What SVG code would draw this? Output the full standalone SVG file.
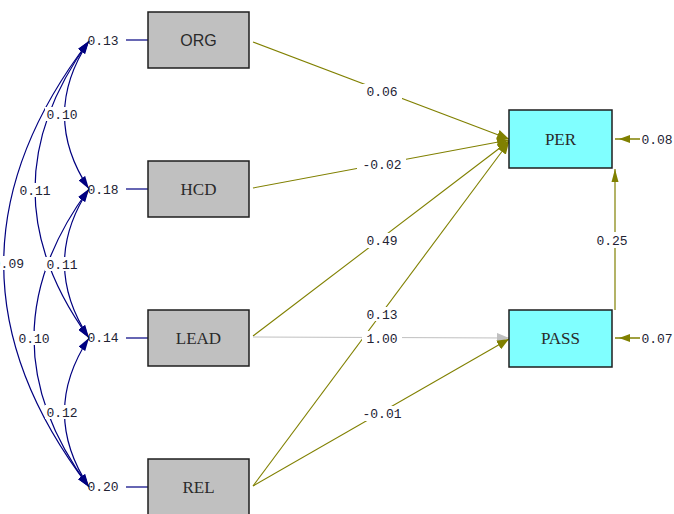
<svg xmlns="http://www.w3.org/2000/svg" width="674" height="514" viewBox="0 0 674 514">
  <style>
    .box { fill: #c0c0c0; stroke: #1e1e1e; stroke-width: 1.5; }
    .endo { fill: #80ffff; stroke: #1e1e1e; stroke-width: 1.5; }
    .name { font-family: "Liberation Serif", "Times New Roman", serif; font-size: 17px; fill: #2a2a2a; text-anchor: middle; }
    .sans { font-family: "Liberation Sans", Arial, sans-serif; font-size: 16px; }
    .num { font-family: "Liberation Mono", "Courier New", monospace; font-size: 13px; fill: #222233; text-anchor: middle; }
    .bg { fill: #ffffff; }
    .cov { fill: none; stroke: #000080; stroke-width: 1.2; marker-start: url(#navyHead); marker-end: url(#navyHead); }
    .err { stroke: #000080; stroke-width: 1.2; }
    .path { fill: none; stroke: #808000; stroke-width: 1.1; marker-end: url(#oliveHead); }
    .fixed { fill: none; stroke: #c0c0c0; stroke-width: 1.2; marker-end: url(#greyHead); }
  </style>
  <defs>
    <marker id="navyHead" markerUnits="userSpaceOnUse" markerWidth="14" markerHeight="8" refX="13" refY="4" orient="auto-start-reverse">
      <path d="M0,0 L13,4 L0,8 z" fill="#000080"/>
    </marker>
    <marker id="oliveHead" markerUnits="userSpaceOnUse" markerWidth="13" markerHeight="10" refX="12" refY="5" orient="auto">
      <path d="M0,0 L12,5 L0,10 z" fill="#808000"/>
    </marker>
    <marker id="greyHead" markerUnits="userSpaceOnUse" markerWidth="13" markerHeight="10" refX="12" refY="5" orient="auto">
      <path d="M0,0 L12,5 L0,10 z" fill="#c0c0c0"/>
    </marker>
    <marker id="thinOlive" markerUnits="userSpaceOnUse" markerWidth="14" markerHeight="8" refX="13" refY="4" orient="auto">
      <path d="M0,0.5 L13,4 L0,7.5 z" fill="#808000"/>
    </marker>
  </defs>

  <!-- connectors -->
  <g id="connectors">
    <!-- covariances among the exogenous variables -->
    <path class="cov" d="M89,41 Q40,115 89,189"/>
    <path class="cov" d="M89,189 Q40,263.5 89,338"/>
    <path class="cov" d="M89,338 Q40,412.5 89,487"/>
    <path class="cov" d="M89,41 Q-19,189.5 89,338"/>
    <path class="cov" d="M89,189 Q-21,338 89,487"/>
    <path class="cov" d="M89,41 C-25,190 -25,338 89,487"/>

    <!-- error variances of exogenous variables -->
    <line class="err" x1="126" y1="40" x2="148" y2="40"/>
    <line class="err" x1="126" y1="189" x2="148" y2="189"/>
    <line class="err" x1="126" y1="338" x2="148" y2="338"/>
    <line class="err" x1="126" y1="487" x2="148" y2="487"/>

    <!-- structural paths -->
    <line class="path" x1="253" y1="42" x2="509" y2="139"/>
    <line class="path" x1="253" y1="188" x2="509" y2="140"/>
    <line class="path" x1="253" y1="336" x2="509" y2="141"/>
    <line class="path" x1="253" y1="486" x2="509" y2="142"/>
    <line class="fixed" x1="253" y1="337" x2="509" y2="338"/>
    <line class="path" x1="253" y1="486" x2="509" y2="339"/>
    <line fill="none" stroke="#808000" stroke-width="1.2" marker-end="url(#thinOlive)" x1="615" y1="310" x2="615" y2="169"/>

    <!-- residuals of endogenous variables -->
    <line stroke="#808000" stroke-width="1.5" x1="615" y1="139" x2="640" y2="139"/>
    <path d="M619,139 L630,135 L630,143 z" fill="#808000"/>
    <line stroke="#808000" stroke-width="1.5" x1="615" y1="338" x2="640" y2="338"/>
    <path d="M619,338 L630,334 L630,342 z" fill="#808000"/>

    <!-- label backgrounds -->
    <rect class="bg" x="45" y="107" width="34" height="14"/>
    <rect class="bg" x="18" y="183" width="34" height="14"/>
    <rect class="bg" x="-12" y="256" width="37" height="14"/>
    <rect class="bg" x="45" y="257" width="34" height="14"/>
    <rect class="bg" x="17" y="331" width="34" height="14"/>
    <rect class="bg" x="45" y="405" width="34" height="14"/>
    <rect class="bg" x="362" y="84" width="40" height="15"/>
    <rect class="bg" x="357" y="157" width="49" height="15"/>
    <rect class="bg" x="362" y="233" width="40" height="15"/>
    <rect class="bg" x="362" y="307" width="40" height="14"/>
    <rect class="bg" x="362" y="331" width="40" height="14"/>
    <rect class="bg" x="357" y="406" width="49" height="15"/>
    <rect class="bg" x="594" y="232" width="36" height="16"/>

    <!-- coefficient labels -->
    <text class="num" x="62" y="118.5">0.10</text>
    <text class="num" x="35" y="194.5">0.11</text>
    <text class="num" x="24" y="267.5" style="text-anchor:end">0.09</text>
    <text class="num" x="62" y="268.5">0.11</text>
    <text class="num" x="34" y="342.5">0.10</text>
    <text class="num" x="62" y="416.5">0.12</text>
    <text class="num" x="382" y="96">0.06</text>
    <text class="num" x="382" y="168.5">-0.02</text>
    <text class="num" x="382" y="244.5">0.49</text>
    <text class="num" x="382" y="318.5">0.13</text>
    <text class="num" x="382" y="342.5">1.00</text>
    <text class="num" x="382" y="417.5">-0.01</text>
    <text class="num" x="612" y="244.5">0.25</text>

    <!-- error variance labels -->
    <text class="num" x="103" y="45">0.13</text>
    <text class="num" x="103" y="194">0.18</text>
    <text class="num" x="103" y="342">0.14</text>
    <text class="num" x="103" y="491">0.20</text>
    <text class="num" x="657" y="144">0.08</text>
    <text class="num" x="657" y="342.5">0.07</text>
  </g>

  <!-- exogenous variables -->
  <g id="ORG">
    <rect class="box" x="148" y="12" width="101" height="56"/>
    <text class="name sans" x="198.5" y="46">ORG</text>
  </g>
  <g id="HCD">
    <rect class="box" x="148" y="161" width="101" height="56"/>
    <text class="name" x="198.5" y="195">HCD</text>
  </g>
  <g id="LEAD">
    <rect class="box" x="148" y="310" width="101" height="56"/>
    <text class="name" x="198.5" y="344">LEAD</text>
  </g>
  <g id="REL">
    <rect class="box" x="148" y="459" width="101" height="56"/>
    <text class="name" x="198.5" y="493">REL</text>
  </g>

  <!-- endogenous variables -->
  <g id="PER">
    <rect class="endo" x="509" y="110" width="103" height="58"/>
    <text class="name" x="560.5" y="145">PER</text>
  </g>
  <g id="PASS">
    <rect class="endo" x="509" y="310" width="103" height="57"/>
    <text class="name" x="560.5" y="344">PASS</text>
  </g>
</svg>
